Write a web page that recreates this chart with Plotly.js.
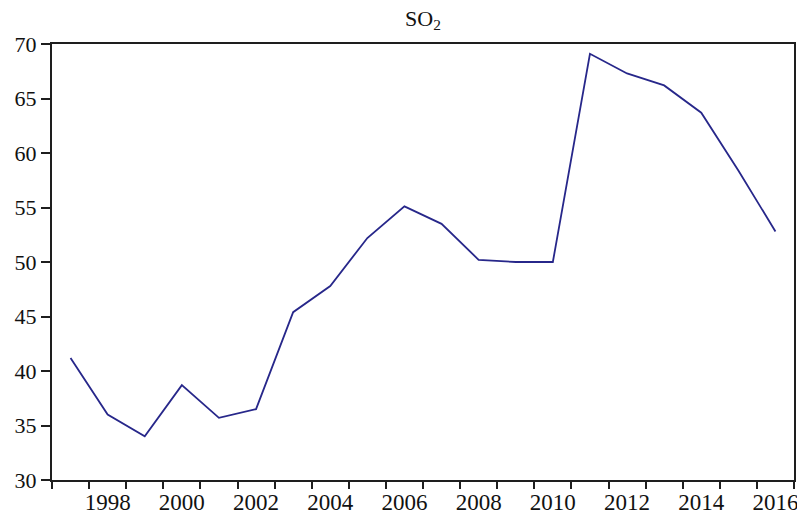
<!DOCTYPE html>
<html>
<head>
<meta charset="utf-8">
<script src="https://cdn.plot.ly/plotly-3.0.1.min.js"></script>
<style>
  html, body { margin: 0; padding: 0; background: #fff; }
  #chart { width: 797px; height: 514px; }
</style>
</head>
<body>
<div id="chart"></div>
<script>
// Annual SO2 series, 1997-2016
const years = [1997, 1998, 1999, 2000, 2001, 2002, 2003, 2004, 2005, 2006,
               2007, 2008, 2009, 2010, 2011, 2012, 2013, 2014, 2015, 2016];
const so2 = [41.2, 36.0, 34.0, 38.7, 35.7, 36.5, 45.4, 47.8, 52.2, 55.1,
             53.5, 50.2, 50.0, 50.0, 69.1, 67.3, 66.2, 63.7, 58.4, 52.8];

// Labelled years (every second year)
const labelYears = [1998, 2000, 2002, 2004, 2006, 2008, 2010, 2012, 2014, 2016];
const yTicks = [30, 35, 40, 45, 50, 55, 60, 65, 70];

// Tick marks sit on the boundaries between years
const yearEdges = years.map(y => y - 0.5).concat([years[years.length - 1] + 0.5]);

const axisColor = '#1e1e1e';
const fontFam = 'Liberation Serif, Times New Roman, serif';

const trace = {
  x: years,
  y: so2,
  type: 'scatter',
  mode: 'lines',
  line: { color: '#27278a', width: 1.8 },
  hoverinfo: 'x+y'
};

const layout = {
  width: 797,
  height: 514,
  margin: { l: 52, r: 3, t: 44, b: 34 },
  paper_bgcolor: '#ffffff',
  plot_bgcolor: '#ffffff',
  font: { family: fontFam, size: 22, color: '#111' },
  showlegend: false,
  title: {
    text: 'SO<sub>2</sub>',
    font: { family: fontFam, size: 22, color: '#111' },
    x: 0.5,
    xref: 'paper',
    y: 0.965,
    yref: 'container',
    yanchor: 'middle'
  },
  xaxis: {
    range: [yearEdges[0], yearEdges[yearEdges.length - 1]],
    tickmode: 'array',
    tickvals: labelYears,
    ticktext: labelYears.map(String),
    tickfont: { family: fontFam, size: 23, color: '#111' },
    ticks: '',
    ticklabeloverflow: 'allow',
    showgrid: false,
    zeroline: false,
    showline: true,
    linecolor: axisColor,
    linewidth: 2,
    mirror: true,
    ticklabelstandoff: 0,
    minor: {
      tickmode: 'array',
      tickvals: yearEdges,
      ticks: 'outside',
      ticklen: 7,
      tickwidth: 2,
      tickcolor: axisColor,
      showgrid: false
    }
  },
  yaxis: {
    range: [30, 70],
    tickmode: 'array',
    tickvals: yTicks,
    ticktext: yTicks.map(String),
    ticks: 'outside',
    ticklen: 9,
    tickwidth: 2,
    tickcolor: axisColor,
    showgrid: false,
    zeroline: false,
    showline: true,
    linecolor: axisColor,
    linewidth: 2,
    mirror: true
  }
};

Plotly.newPlot('chart', [trace], layout, { displayModeBar: false, staticPlot: true });
</script>
</body>
</html>
